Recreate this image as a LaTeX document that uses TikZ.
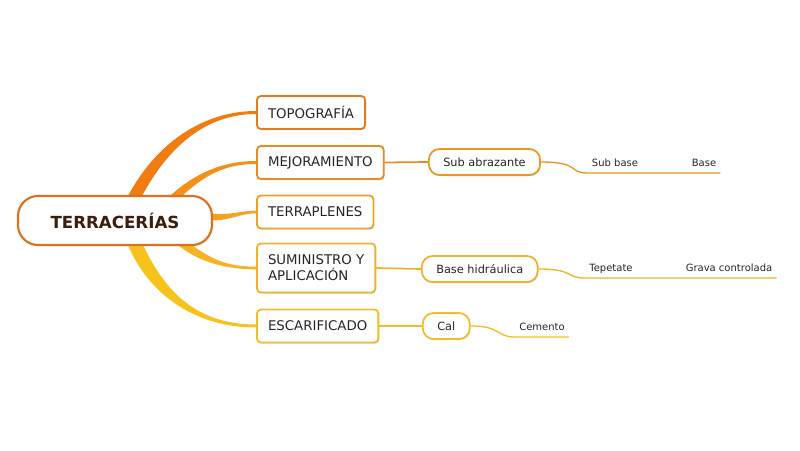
\documentclass[tikz,border=0pt]{standalone}
\usepackage{fontspec}
\setmainfont{DejaVu Sans}
\usetikzlibrary{positioning,calc,shadows,backgrounds}

\definecolor{cRaiz}{HTML}{E0701E}
\definecolor{cTexto}{HTML}{3B1E0C}
\definecolor{cTopo}{HTML}{E57A22}
\definecolor{cMej}{HTML}{E88A25}
\definecolor{cTerr}{HTML}{EEA02A}
\definecolor{cSum}{HTML}{F0B22E}
\definecolor{cEsc}{HTML}{F0BE28}
\definecolor{cRamaA}{HTML}{F07C12}
\definecolor{cRamaB}{HTML}{F39019}
\definecolor{cRamaC}{HTML}{F6A21E}
\definecolor{cRamaD}{HTML}{F7B323}
\definecolor{cRamaE}{HTML}{F6C21C}

\tikzset{
  sombra/.style={drop shadow={shadow xshift=0.5pt, shadow yshift=-0.9pt, opacity=0.3, fill=black!50}},
  raiz/.style={draw=cRaiz, line width=1.6pt, fill=white, rounded corners=15pt,
    minimum width=145.5pt, minimum height=36.75pt, text=cTexto,
    font=\bfseries\fontsize{12.5}{15}\selectfont, sombra},
  tema/.style={draw=#1, line width=1.4pt, fill=white, rounded corners=3pt, anchor=west,
    minimum height=24.75pt, inner xsep=8.3pt, align=left, text=black!85,
    font=\fontsize{10}{12}\selectfont, sombra},
  subtema/.style={draw=#1, line width=1.3pt, fill=white, rounded corners=8pt, anchor=west,
    minimum height=19.5pt, inner xsep=10.8pt, text=black!85,
    font=\fontsize{8.5}{10}\selectfont, sombra},
  hoja/.style={anchor=south, inner xsep=3pt, inner ysep=4pt, text depth=1pt,
    text=black!85, font=\fontsize{7.5}{9}\selectfont},
  enlace/.style={draw=#1, line width=1.3pt},
  subraya/.style={draw=#1, line width=1pt}
}

\begin{document}
\begin{tikzpicture}[x=0.75pt, y=-0.75pt]
    \useasboundingbox ( 0, 0 ) rectangle ( 800, 450 );

    % nodo central
    \node [raiz] (raiz) at ( 115, 220.5 ) {TERRACERÍAS};

    % temas
    \node [tema=cTopo] (topo) at ( 256, 112.5 ) {TOPOGRAFÍA};
    \node [tema=cMej]  (mej)  at ( 256, 162.5 ) {MEJORAMIENTO};
    \node [tema=cTerr] (terr) at ( 256, 212 )   {TERRAPLENES};
    \node [tema=cSum, minimum height=36.75pt] (sum) at ( 256, 268 ) {SUMINISTRO Y\\APLICACIÓN};
    \node [tema=cEsc]  (esc)  at ( 256, 326 )   {ESCARIFICADO};

    % subtemas
    \node [subtema=cMej!90!yellow] (sab) at ( 428, 162 ) {Sub abrazante};
    \node [subtema=cSum] (bh)  at ( 421, 269 ) {Base hidráulica};
    \node [subtema=cEsc] (cal) at ( 422, 326 ) {Cal};

    % hojas
    \node [hoja] (sbase) at ( 615, 173 ) {Sub base};
    \node [hoja] (base)  at ( 704, 173 ) {Base};
    \node [hoja] (tep)   at ( 611, 278 ) {Tepetate};
    \node [hoja] (grava) at ( 729, 278 ) {Grava controlada};
    \node [hoja] (cem)   at ( 542, 337 ) {Cemento};

    % ramas del nodo central
    \begin{scope}[on background layer]
        \fill [cRamaA] ($(raiz.north)+( 13, 1 )$) .. controls +( 30, -56 ) and +( -50, 0 ) .. ($(topo.west)+( 0, -1.5 )$)
            -- ($(topo.west)+( 0, 1.5 )$) .. controls +( -48, 0 ) and +( 28, -52 ) .. ($(raiz.north)+( 27, 1 )$) -- cycle;
        \fill [cRamaB] ($(raiz.north)+( 55, 1 )$) .. controls +( 24, -22 ) and +( -34, 0 ) .. ($(mej.west)+( 0, -1.5 )$)
            -- ($(mej.west)+( 0, 1.5 )$) .. controls +( -32, 0 ) and +( 22, -20 ) .. ($(raiz.north)+( 67, 1 )$) -- cycle;
        \fill [cRamaC] ($(raiz.east)+( -2, -7 )$) .. controls +( 20, 2 ) and +( -16, 0 ) .. ($(terr.west)+( 0, -1.3 )$)
            -- ($(terr.west)+( 0, 1.3 )$) .. controls +( -16, 0 ) and +( 20, 0 ) .. ($(raiz.east)+( -2, 0 )$) -- cycle;
        \fill [cRamaD] ($(raiz.south)+( 77, -1 )$) .. controls +( 22, 16 ) and +( -26, 0 ) .. ($(sum.west)+( 0, -1.3 )$)
            -- ($(sum.west)+( 0, 1.3 )$) .. controls +( -28, 0 ) and +( 22, 18 ) .. ($(raiz.south)+( 63, -1 )$) -- cycle;
        \fill [cRamaE] ($(raiz.south)+( 13, -1 )$) .. controls +( 20, 48 ) and +( -62, 0 ) .. ($(esc.west)+( 0, 1.5 )$)
            -- ($(esc.west)+( 0, -1.5 )$) .. controls +( -60, 0 ) and +( 22, 46 ) .. ($(raiz.south)+( 28, -1 )$) -- cycle;
    \end{scope}

    % enlaces a subtemas
    \draw [enlace=cMej] (mej.east) -- (sab.west);
    \draw [enlace=cSum] (sum.east) -- (bh.west);
    \draw [enlace=cEsc] (esc.east) -- (cal.west);

    % enlaces a hojas
    \draw [subraya=cMej!90!yellow] (sab.east) .. controls +( 40, 0 ) and +( -20, 0 ) .. (sbase.south west) -- (base.south east);
    \draw [subraya=cSum] (bh.east) .. controls +( 36, 0 ) and +( -20, 0 ) .. (tep.south west) -- (grava.south east);
    \draw [subraya=cEsc] (cal.east) .. controls +( 32, 0 ) and +( -20, 0 ) .. (cem.south west) -- (cem.south east);
\end{tikzpicture}
\end{document}
